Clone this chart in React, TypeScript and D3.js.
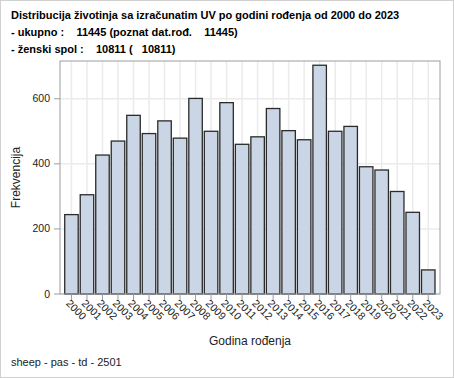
import React from "react";
import * as d3 from "d3";

const years = ["2000","2001","2002","2003","2004","2005","2006","2007","2008","2009","2010","2011","2012","2013","2014","2015","2016","2017","2018","2019","2020","2021","2022","2023"];
const counts = [244, 305, 427, 470, 549, 493, 532, 479, 601, 500, 588, 460, 483, 570, 502, 474, 703, 500, 515, 391, 381, 315, 251, 74];
const yTicks = [0, 200, 400, 600];
const titleLines = [
  "Distribucija životinja sa izračunatim UV po godini rođenja od 2000 do 2023",
  "- ukupno :    11445 (poznat dat.rođ.    11445)",
  "- ženski spol :    10811 (   10811)",
];
const footnote = "sheep - pas - td - 2501";
const xTitle = "Godina rođenja";
const yTitle = "Frekvencija";

const W = 454, H = 378;
const plot = { left: 60, right: 440, top: 61, bottom: 294 };
const font = "'Liberation Sans', Arial, sans-serif";

export default function App() {
  const x = d3.scaleBand<string>().domain(years).range([63.7, 436]).paddingInner(0.13).paddingOuter(0.065);
  const y = d3.scaleLinear().domain([0, 716]).range([plot.bottom, plot.top]);
  const bw = x.bandwidth();
  return (
    <svg width={W} height={H} style={{ position: "absolute", left: 0, top: 0, background: "#fff" }} fontFamily={font}>
      <rect x={0.5} y={0.5} width={W - 1} height={H - 1} fill="#fff" stroke="#d0d0d0" />
      {titleLines.map((t, i) => (
        <text key={i} x={11} y={19 + i * 17} fontSize={11} fontWeight="bold" fill="#000" style={{ whiteSpace: "pre" }}>{t}</text>
      ))}
      {/* gridlines */}
      {years.map((yr) => (
        <line key={"vg" + yr} x1={x(yr)! + bw / 2} x2={x(yr)! + bw / 2} y1={plot.top} y2={plot.bottom} stroke="#ebebeb" strokeWidth={1.5} />
      ))}
      {yTicks.map((t) => (
        <line key={"hg" + t} x1={plot.left} x2={plot.right} y1={y(t)} y2={y(t)} stroke="#ebebeb" strokeWidth={1.5} />
      ))}
      {/* bars */}
      {years.map((yr, i) => (
        <rect key={"b" + yr} x={x(yr)!} y={y(counts[i])} width={bw} height={y(0) - y(counts[i])} fill="#cad5e5" stroke="#2b2b2b" strokeWidth={1.3} />
      ))}
      {/* frame */}
      <rect x={plot.left} y={plot.top} width={plot.right - plot.left} height={plot.bottom - plot.top} fill="none" stroke="#9a9ea2" />
      {/* y axis ticks */}
      {yTicks.map((t) => (
        <g key={"yt" + t}>
          <line x1={plot.left - 6} x2={plot.left} y1={y(t)} y2={y(t)} stroke="#9a9ea2" />
          <text x={plot.left - 10} y={y(t) + 3.5} fontSize={10.5} textAnchor="end" fill="#222">{t}</text>
        </g>
      ))}
      {/* x axis ticks */}
      {years.map((yr) => {
        const cx = x(yr)! + bw / 2;
        return (
          <g key={"xt" + yr}>
            <line x1={cx} x2={cx} y1={plot.bottom} y2={plot.bottom + 6} stroke="#9a9ea2" />
            <text transform={`translate(${cx - 6},${plot.bottom + 10}) rotate(45)`} fontSize={10.5} fill="#222">{yr}</text>
          </g>
        );
      })}
      <text x={(plot.left + plot.right) / 2} y={345} fontSize={12} textAnchor="middle" fill="#222">{xTitle}</text>
      <text transform={`translate(20,${(plot.top + plot.bottom) / 2}) rotate(-90)`} fontSize={12} textAnchor="middle" fill="#222">{yTitle}</text>
      <text x={11} y={366} fontSize={11} fill="#222">{footnote}</text>
    </svg>
  );
}
